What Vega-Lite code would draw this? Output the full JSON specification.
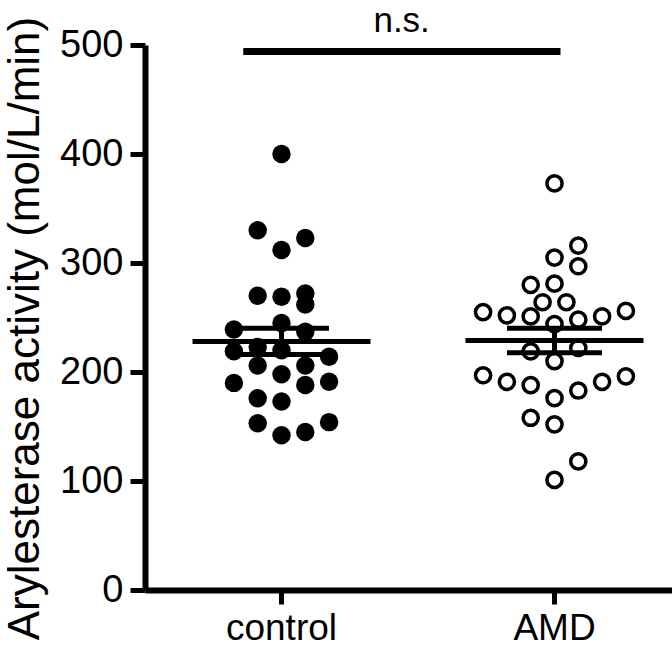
{
  "$schema": "https://vega.github.io/schema/vega-lite/v6.json",
  "width": 527,
  "height": 545,
  "autosize": "none",
  "padding": {"left": 145, "top": 45, "right": 0, "bottom": 76},
  "background": "white",
  "config": {
    "view": {"stroke": null},
    "font": "Liberation Sans",
    "axis": {
      "domainColor": "black",
      "domainWidth": 6,
      "tickColor": "black",
      "tickWidth": 5,
      "labelColor": "black",
      "labelFont": "Liberation Sans",
      "titleFont": "Liberation Sans",
      "titleColor": "black",
      "titleFontWeight": "normal",
      "grid": false
    },
    "axisY": {"tickSize": 15, "labelFontSize": 38, "labelPadding": 7, "titleFontSize": 44, "titlePadding": 12, "titleY": 283},
    "axisX": {"tickSize": 14, "labelFontSize": 37, "labelPadding": 6, "labelAngle": 0}
  },
  "datasets": {
    "pts": [
      {"group": "control", "v": 400, "col": 0},
      {"group": "control", "v": 330, "col": -1},
      {"group": "control", "v": 323, "col": 1},
      {"group": "control", "v": 312, "col": 0},
      {"group": "control", "v": 270, "col": -1},
      {"group": "control", "v": 269, "col": 0},
      {"group": "control", "v": 272, "col": 1},
      {"group": "control", "v": 262, "col": 1},
      {"group": "control", "v": 239, "col": -2},
      {"group": "control", "v": 245, "col": 0},
      {"group": "control", "v": 237, "col": 1},
      {"group": "control", "v": 219, "col": -2},
      {"group": "control", "v": 223, "col": -1},
      {"group": "control", "v": 220, "col": 0},
      {"group": "control", "v": 206, "col": -1},
      {"group": "control", "v": 214, "col": 2},
      {"group": "control", "v": 206, "col": 1},
      {"group": "control", "v": 198, "col": 0},
      {"group": "control", "v": 190, "col": -2},
      {"group": "control", "v": 188, "col": 1},
      {"group": "control", "v": 191, "col": 2},
      {"group": "control", "v": 176, "col": -1},
      {"group": "control", "v": 173, "col": 0},
      {"group": "control", "v": 153, "col": -1},
      {"group": "control", "v": 154, "col": 2},
      {"group": "control", "v": 145, "col": 1},
      {"group": "control", "v": 142, "col": 0},
      {"group": "AMD", "v": 373, "col": 0},
      {"group": "AMD", "v": 316, "col": 1},
      {"group": "AMD", "v": 305, "col": 0},
      {"group": "AMD", "v": 297, "col": 1},
      {"group": "AMD", "v": 280, "col": -1},
      {"group": "AMD", "v": 281, "col": 0},
      {"group": "AMD", "v": 264, "col": -0.5},
      {"group": "AMD", "v": 264, "col": 0.5},
      {"group": "AMD", "v": 255, "col": -3},
      {"group": "AMD", "v": 252, "col": -2},
      {"group": "AMD", "v": 251, "col": -1},
      {"group": "AMD", "v": 244, "col": 0},
      {"group": "AMD", "v": 248, "col": 1},
      {"group": "AMD", "v": 251, "col": 2},
      {"group": "AMD", "v": 256, "col": 3},
      {"group": "AMD", "v": 219, "col": -1},
      {"group": "AMD", "v": 222, "col": 1},
      {"group": "AMD", "v": 210, "col": 0},
      {"group": "AMD", "v": 197, "col": -3},
      {"group": "AMD", "v": 191, "col": -2},
      {"group": "AMD", "v": 188, "col": -1},
      {"group": "AMD", "v": 176, "col": 0},
      {"group": "AMD", "v": 183, "col": 1},
      {"group": "AMD", "v": 191, "col": 2},
      {"group": "AMD", "v": 196, "col": 3},
      {"group": "AMD", "v": 158, "col": -1},
      {"group": "AMD", "v": 152, "col": 0},
      {"group": "AMD", "v": 118, "col": 1},
      {"group": "AMD", "v": 101, "col": 0}
    ],
    "ann": [{"g1": "control", "g2": "AMD", "y": 494, "label": "n.s."}]
  },
  "layer": [
    {
      "data": {"name": "pts"},
      "transform": [{"filter": "datum.group === 'control'"}],
      "mark": {"type": "point", "filled": true, "size": 340, "color": "black", "opacity": 1},
      "encoding": {
        "x": {"field": "group", "type": "nominal", "title": null, "sort": ["control", "AMD"],
              "scale": {"domain": ["control", "AMD"], "range": [0, 546], "paddingInner": 0, "paddingOuter": 0}},
        "xOffset": {"field": "col", "type": "quantitative", "scale": {"domain": [-3, 3], "range": [65.1, 207.9]}},
        "y": {"field": "v", "type": "quantitative", "title": "Arylesterase activity (mol/L/min)",
              "scale": {"domain": [0, 500], "nice": false},
              "axis": {"values": [0, 100, 200, 300, 400, 500]}}
      }
    },
    {
      "data": {"name": "pts"},
      "transform": [{"filter": "datum.group === 'AMD'"}],
      "mark": {"type": "point", "filled": false, "size": 230, "color": "black", "strokeWidth": 3.5, "opacity": 1},
      "encoding": {
        "x": {"field": "group", "type": "nominal", "title": null, "sort": ["control", "AMD"]},
        "xOffset": {"field": "col", "type": "quantitative"},
        "y": {"field": "v", "type": "quantitative", "title": "Arylesterase activity (mol/L/min)"}
      }
    },
    {
      "data": {"name": "pts"},
      "mark": {"type": "errorbar", "extent": "stderr", "color": "black", "opacity": 1,
               "ticks": {"size": 95, "thickness": 5, "color": "black", "opacity": 1},
               "rule": {"strokeWidth": 5, "color": "black", "opacity": 1}},
      "encoding": {
        "x": {"field": "group", "type": "nominal", "title": null, "sort": ["control", "AMD"]},
        "y": {"field": "v", "type": "quantitative", "title": "Arylesterase activity (mol/L/min)"}
      }
    },
    {
      "data": {"name": "pts"},
      "mark": {"type": "tick", "size": 178, "thickness": 5, "color": "black", "opacity": 1},
      "encoding": {
        "x": {"field": "group", "type": "nominal", "title": null, "sort": ["control", "AMD"]},
        "y": {"aggregate": "mean", "field": "v", "type": "quantitative", "title": "Arylesterase activity (mol/L/min)"}
      }
    },
    {
      "data": {"name": "ann"},
      "mark": {"type": "rule", "strokeWidth": 7, "color": "black", "strokeCap": "butt", "x2Offset": 6},
      "encoding": {
        "x": {"field": "g1", "type": "nominal", "title": null, "bandPosition": 0.36},
        "x2": {"field": "g2"},
        "y": {"field": "y", "type": "quantitative", "title": "Arylesterase activity (mol/L/min)"}
      }
    },
    {
      "data": {"name": "ann"},
      "mark": {"type": "text", "fontSize": 35, "font": "Liberation Sans", "color": "black", "baseline": "alphabetic", "align": "center", "dy": -20},
      "encoding": {
        "x": {"field": "g1", "type": "nominal", "title": null, "bandPosition": 0.94},
        "y": {"field": "y", "type": "quantitative", "title": "Arylesterase activity (mol/L/min)"},
        "text": {"field": "label"}
      }
    }
  ]
}
